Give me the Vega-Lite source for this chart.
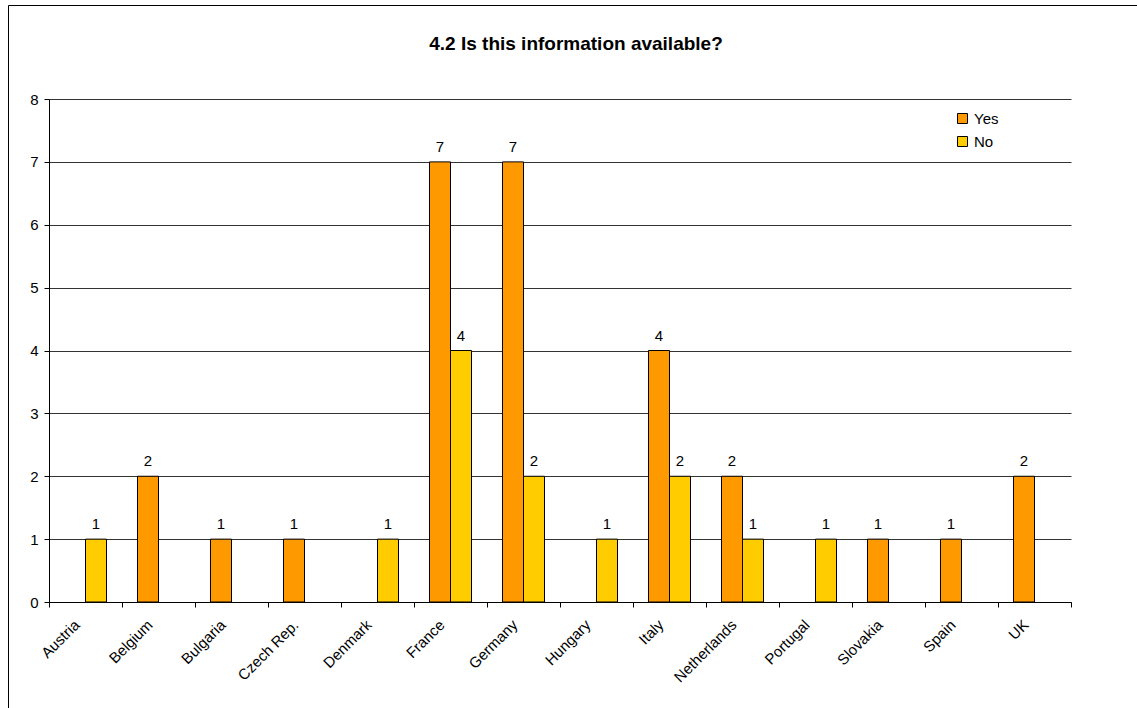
{
  "$schema": "https://vega.github.io/schema/vega-lite/v6.json",
  "autosize": {"type": "none"},
  "width": 1022,
  "height": 503,
  "padding": {"left": 49, "top": 99, "right": 66, "bottom": 106},
  "background": "white",
  "config": {
    "font": "Liberation Sans",
    "view": {"stroke": null}
  },
  "title": {
    "text": "4.2 Is this information available?",
    "fontSize": 19,
    "fontWeight": "bold",
    "color": "black",
    "anchor": "middle",
    "frame": "group",
    "dx": 16,
    "offset": -64,
    "baseline": "alphabetic"
  },
  "data": {
    "values": [
      {"country": "Austria", "answer": "No", "count": 1},
      {"country": "Belgium", "answer": "Yes", "count": 2},
      {"country": "Bulgaria", "answer": "Yes", "count": 1},
      {"country": "Czech Rep.", "answer": "Yes", "count": 1},
      {"country": "Denmark", "answer": "No", "count": 1},
      {"country": "France", "answer": "Yes", "count": 7},
      {"country": "France", "answer": "No", "count": 4},
      {"country": "Germany", "answer": "Yes", "count": 7},
      {"country": "Germany", "answer": "No", "count": 2},
      {"country": "Hungary", "answer": "No", "count": 1},
      {"country": "Italy", "answer": "Yes", "count": 4},
      {"country": "Italy", "answer": "No", "count": 2},
      {"country": "Netherlands", "answer": "Yes", "count": 2},
      {"country": "Netherlands", "answer": "No", "count": 1},
      {"country": "Portugal", "answer": "No", "count": 1},
      {"country": "Slovakia", "answer": "Yes", "count": 1},
      {"country": "Spain", "answer": "Yes", "count": 1},
      {"country": "UK", "answer": "Yes", "count": 2}
    ]
  },
  "encoding": {
    "x": {
      "field": "country",
      "type": "nominal",
      "scale": {
        "domain": ["Austria", "Belgium", "Bulgaria", "Czech Rep.", "Denmark", "France", "Germany", "Hungary", "Italy", "Netherlands", "Portugal", "Slovakia", "Spain", "UK"],
        "paddingInner": 0,
        "paddingOuter": 0
      },
      "axis": {
        "title": null,
        "labelAngle": -45,
        "labelAlign": "right",
        "labelBaseline": "middle",
        "labelPadding": 15,
        "labelOffset": -9,
        "labelFontSize": 15,
        "labelColor": "black",
        "tickBand": "extent",
        "tickSize": 5,
        "tickColor": "black",
        "domainColor": "black",
        "grid": false
      }
    },
    "xOffset": {
      "field": "answer",
      "type": "nominal",
      "scale": {"domain": ["Yes", "No"], "paddingInner": 0, "paddingOuter": 0.738}
    },
    "y": {
      "field": "count",
      "type": "quantitative",
      "scale": {"domain": [0, 8], "nice": false},
      "axis": {
        "title": null,
        "values": [0, 1, 2, 3, 4, 5, 6, 7, 8],
        "labelFontSize": 15,
        "labelColor": "black",
        "labelPadding": 6,
        "tickSize": 5,
        "tickColor": "black",
        "domainColor": "black",
        "gridColor": "#333333",
        "gridOpacity": 1
      }
    }
  },
  "layer": [
    {
      "mark": {"type": "bar", "strokeWidth": 1},
      "encoding": {
        "color": {
          "field": "answer",
          "type": "nominal",
          "scale": {"domain": ["Yes", "No"], "range": ["#FF9900", "#FFCC00"]},
          "legend": {
            "title": null,
            "orient": "none",
            "legendX": 906,
            "legendY": 12,
            "padding": 0,
            "symbolType": "square",
            "symbolSize": 100,
            "symbolStrokeColor": "black",
            "symbolStrokeWidth": 1,
            "symbolOpacity": 1,
            "labelFontSize": 15,
            "labelColor": "black",
            "labelOffset": 4,
            "rowPadding": 7
          }
        },
        "stroke": {
          "datum": "frame",
          "scale": {"range": ["black"]},
          "legend": {
            "title": null,
            "orient": "none",
            "legendX": -41,
            "legendY": -94,
            "padding": 1500,
            "strokeColor": "black",
            "labels": false,
            "symbolOpacity": 0,
            "symbolStrokeWidth": 0
          }
        }
      }
    },
    {
      "mark": {"type": "text", "fontSize": 15, "color": "black", "baseline": "alphabetic", "dy": -10},
      "encoding": {
        "text": {"field": "count", "type": "quantitative"}
      }
    }
  ]
}
